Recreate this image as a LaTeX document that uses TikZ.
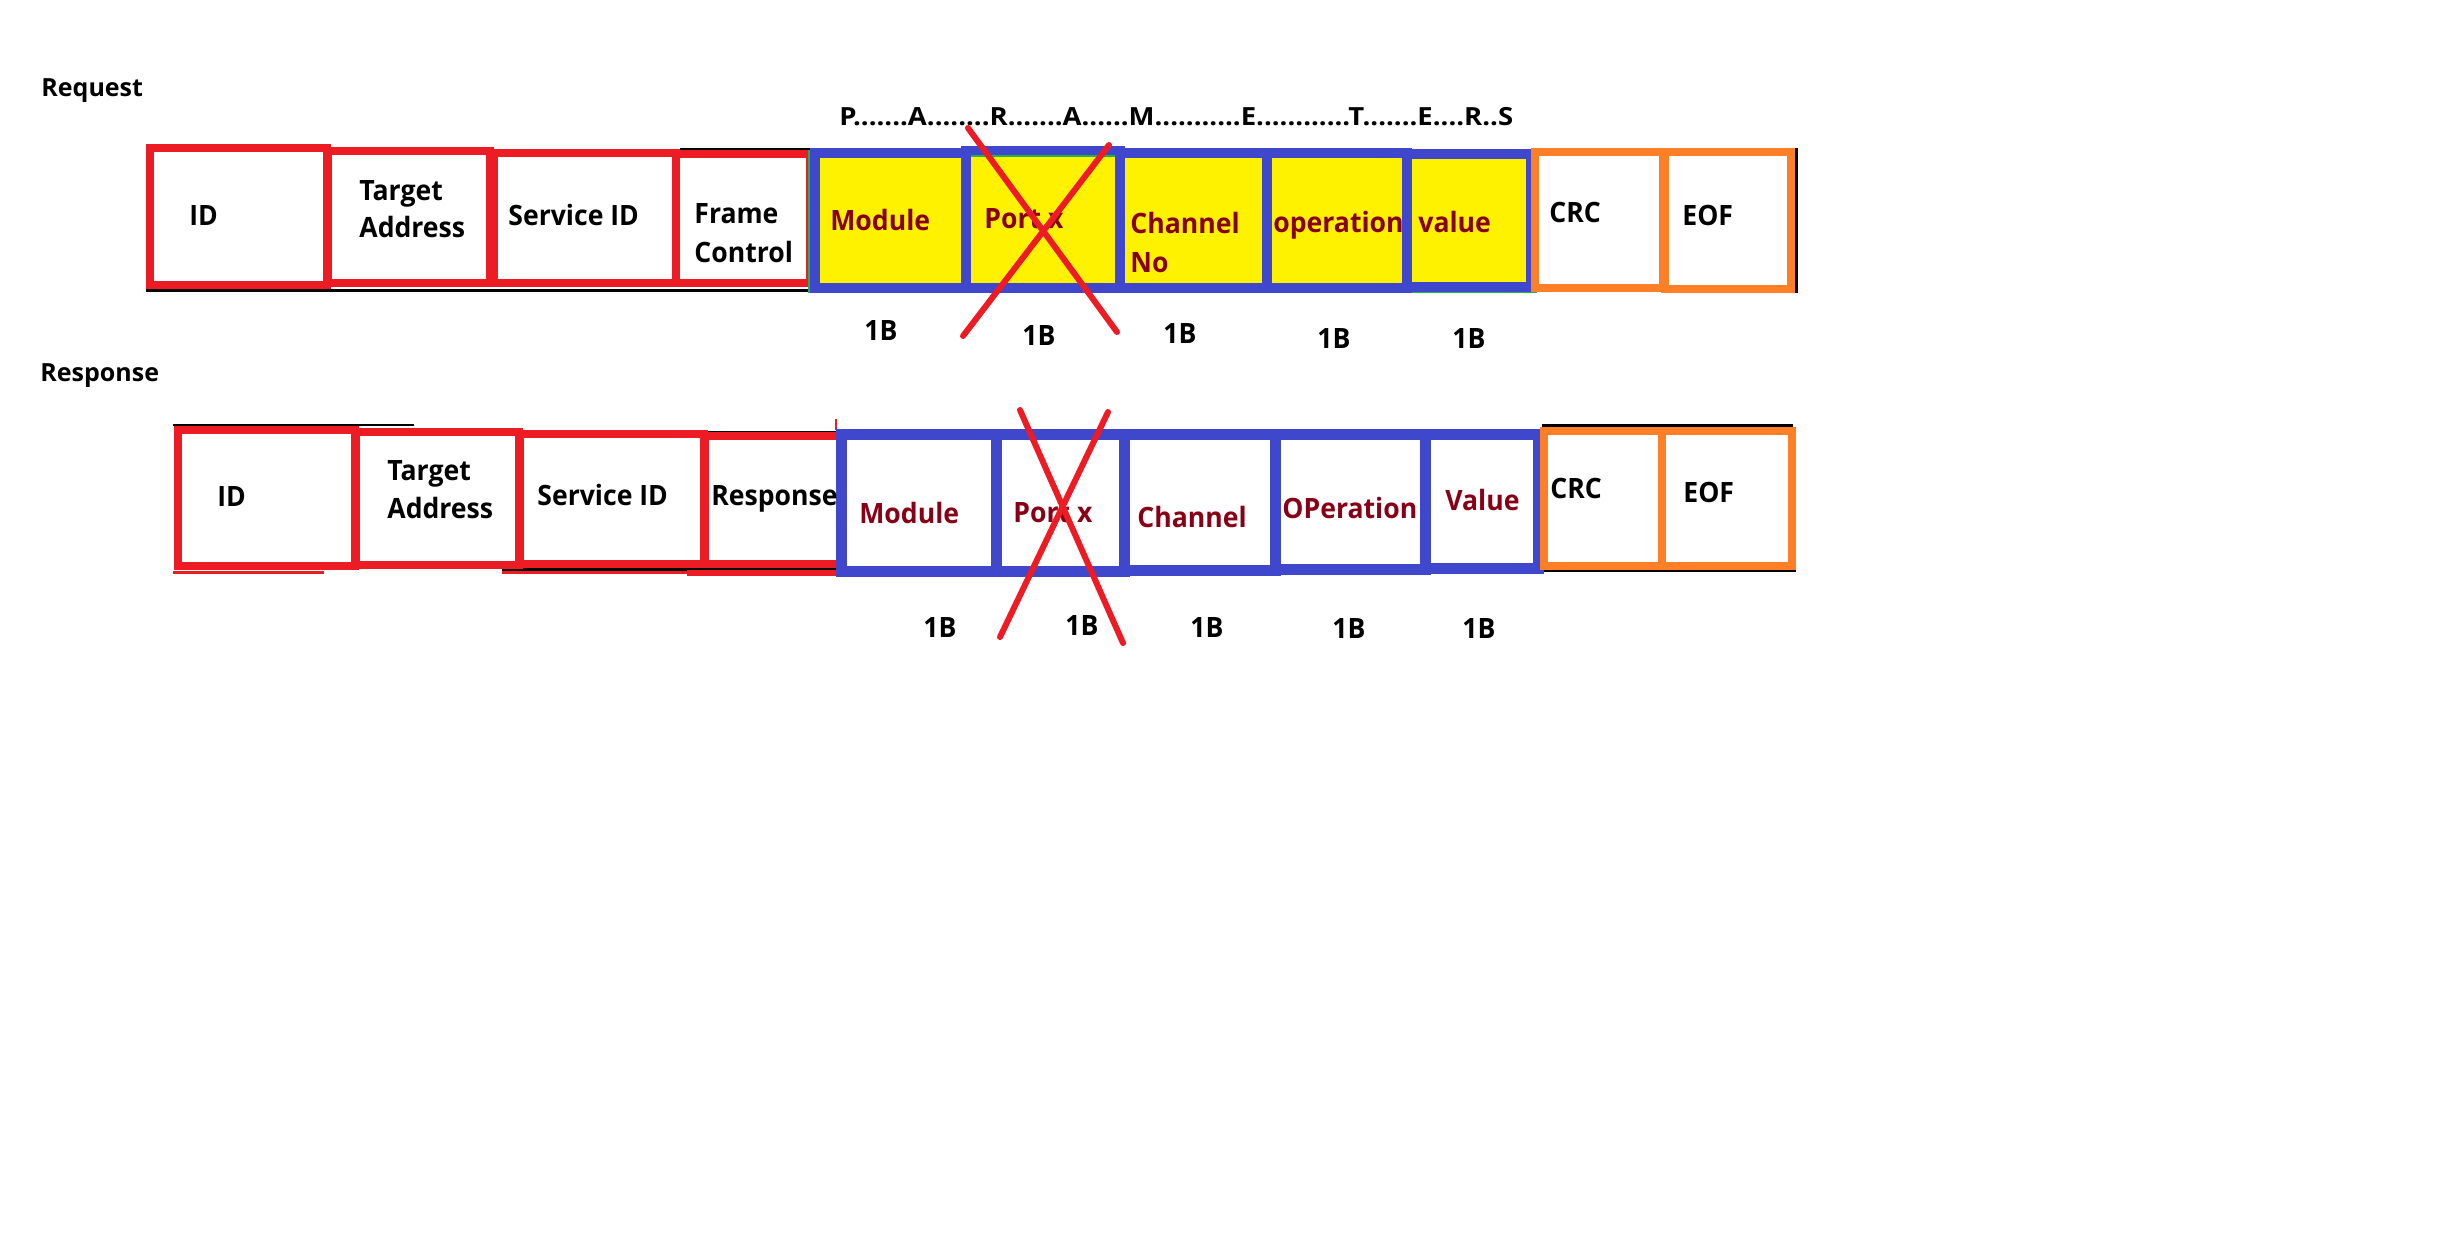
\documentclass[tikz,border=0pt]{standalone}
\usepackage{fontspec}
\setmainfont{Open Sans}
\newfontfamily\lblfont{Open Sans}[FakeStretch=0.95]
\usetikzlibrary{fit}
\definecolor{pRed}{HTML}{ED1C24}
\definecolor{pBlue}{HTML}{3F48CC}
\definecolor{pYellow}{HTML}{FFF200}
\definecolor{pOrange}{HTML}{FF7F27}
\definecolor{pDark}{HTML}{880015}
\definecolor{pGreen}{HTML}{22B14C}
\begin{document}
\begin{tikzpicture}[x=0.5pt,y=-0.5pt,
  redcell/.style={draw=pRed, line width=4pt, inner sep=0pt, fill=white},
  bluecellA/.style={draw=pBlue, line width=5pt, inner sep=0pt, fill=pYellow},
  bluecellB/.style={draw=pBlue, line width=5.5pt, inner sep=0pt, fill=white},
  orangecell/.style={draw=pOrange, line width=4pt, inner sep=0pt, fill=white},
  blk/.style={draw=black},
  lbl/.style={anchor=base west, inner sep=0pt, font=\lblfont\fontsize{14}{16}\selectfont\bfseries},
  lblp/.style={lbl, text=pDark},
  title/.style={anchor=base west, inner sep=0pt, font=\fontsize{12.5}{15}\selectfont\bfseries},
  sizelbl/.style={anchor=base west, inner sep=0pt, font=\lblfont\fontsize{14}{16}\selectfont\bfseries},
  crossline/.style={draw=pRed, line width=3pt, line cap=round},
]
\useasboundingbox[fill=white] (0,0) rectangle (2440,1244);

% ---------------- Request ----------------
\node[title] (reqT) at (41,96) {Request};
\node[title] (params) at (839,125) {\scalebox{1.1}[1]{P.......A........R.......A......M...........E............T.......E....R..S}};

% underlying black lines
\draw[blk, line width=2.5pt] (146,154.5) -- (500,154.5);
\draw[blk, line width=1pt] (680,149) -- (810,149);
\draw[blk, line width=1.5pt] (146,290) -- (810,290);
\draw[blk, line width=1.5pt] (1539,157) -- (1793,157);
\draw[blk, line width=1.5pt] (1539,284) -- (1793,284);
\draw[blk, line width=1.5pt] (1796,148) -- (1796,293);

% red cells
\node[redcell, fit={(150,148) (327,285)}] (rID) {};
\node[redcell, fit={(328,151) (490,283)}] (rTA) {};
\node[redcell, fit={(494,153) (676,283)}] (rSID) {};
\node[redcell, fit={(676,154) (810,283)}] (rFC) {};

% green outline of the parameter block
\draw[draw=pGreen, line width=1pt] (1537,292) -- (809,292) -- (809,150);

% blue/yellow parameter cells
\node[bluecellA, fit={(815,153) (965.5,287.5)}] (rMod) {};
\node[bluecellA, fit={(965.5,151) (1120,287.5)}] (rPort) {};
\node[bluecellA, fit={(1120,153) (1266.5,287.5)}] (rChan) {};
\node[bluecellA, fit={(1266.5,153) (1406.5,287.5)}] (rOp) {};
\node[bluecellA, fit={(1406.5,154) (1531,286.5)}] (rVal) {};
\draw[draw=pGreen, line width=1pt] (971,156) -- (1115,156);

% orange cells
\node[orangecell, fit={(1535,152) (1663,288)}] (rCRC) {};
\node[orangecell, fit={(1665,152) (1791,289)}] (rEOF) {};

% request texts
\node[lbl] (tID1) at (189,225) {ID};
\node[lbl] (tTA1a) at (359,200) {Target};
\node[lbl] (tTA1b) at (359,237) {Address};
\node[lbl] (tSID1) at (508,225) {Service ID};
\node[lbl] (tFC1a) at (694,223) {Frame};
\node[lbl] (tFC1b) at (694,262) {Control};
\node[lblp] (tMod1) at (830,230) {Module};
\node[lblp] (tPort1) at (984,228) {Port x};
\node[lblp] (tCh1a) at (1130,233) {Channel};
\node[lblp] (tCh1b) at (1130,272) {No};
\node[lblp] (tOp1) at (1273,232) {operation};
\node[lblp] (tVal1) at (1418,232) {value};
\node[lbl] (tCRC1) at (1549,222) {CRC};
\node[lbl] (tEOF1) at (1682,225) {EOF};

\node[sizelbl] (b11) at (864,340) {1B};
\node[sizelbl] (b12) at (1022,345) {1B};
\node[sizelbl] (b13) at (1163,343) {1B};
\node[sizelbl] (b14) at (1317,348) {1B};
\node[sizelbl] (b15) at (1452,348) {1B};

% cross over Port (request)
\coordinate (rxa1) at (968,128);
\coordinate (rxa2) at (1117,332);
\coordinate (rxb1) at (1109,145);
\coordinate (rxb2) at (963,336);
\draw[crossline] (rxa1) -- (rxa2);
\draw[crossline] (rxb1) -- (rxb2);

% ---------------- Response ----------------
\node[title] (resT) at (40,381) {Response};

% underlying lines
\draw[blk, line width=1.2pt] (173,425) -- (414,425);
\draw[blk, line width=2.5pt] (178,436) -- (525,436);
\draw[blk, line width=1pt] (708,431.5) -- (839,431.5);
\draw[blk, line width=1.5pt] (502,569) -- (839,569);
\draw[draw=pRed, line width=1.5pt] (173,572) -- (324,572);
\draw[draw=pRed, line width=1.5pt] (502,572) -- (687,572);
\draw[draw=pRed, line width=3pt] (687,573) -- (839,573);
\draw[draw=pRed, line width=1pt] (836,419) -- (836,430);
\draw[blk, line width=1.5pt] (1542,425) -- (1793,425);
\draw[blk, line width=2pt] (1542,570) -- (1796,570);

% red cells
\node[redcell, fit={(178,430) (355,566)}] (sID) {};
\node[redcell, fit={(356,432) (519,565)}] (sTA) {};
\node[redcell, fit={(520,434) (704,564)}] (sSID) {};
\node[redcell, fit={(705,436) (841,564)}] (sResp) {};

% blue cells
\node[bluecellB, fit={(841.5,434.5) (996.5,571)}] (sMod) {};
\node[bluecellB, fit={(996.5,434.5) (1124.5,571)}] (sPort) {};
\node[bluecellB, fit={(1124.5,434.5) (1275,570)}] (sChan) {};
\node[bluecellB, fit={(1275,434.5) (1425.5,569)}] (sOp) {};
\node[bluecellB, fit={(1425.5,434.5) (1538.5,568)}] (sVal) {};

% orange cells
\node[orangecell, fit={(1544,431) (1662,566)}] (sCRC) {};
\node[orangecell, fit={(1662,431) (1792,566)}] (sEOF) {};

% response texts
\node[lbl] (tID2) at (217,506) {ID};
\node[lbl] (tTA2a) at (387,480) {Target};
\node[lbl] (tTA2b) at (387,518) {Address};
\node[lbl] (tSID2) at (537,505) {Service ID};
\node[lbl] (tResp2) at (711,505) {Response};
\node[lblp] (tMod2) at (859,523) {Module};
\node[lblp] (tPort2) at (1013,522) {Port x};
\node[lblp] (tCh2) at (1137,527) {Channel};
\node[lblp] (tOp2) at (1282,518) {OPeration};
\node[lblp] (tVal2) at (1445,510) {Value};
\node[lbl] (tCRC2) at (1550,498) {CRC};
\node[lbl] (tEOF2) at (1683,502) {EOF};

\node[sizelbl] (b21) at (923,637) {1B};
\node[sizelbl] (b22) at (1065,635) {1B};
\node[sizelbl] (b23) at (1190,637) {1B};
\node[sizelbl] (b24) at (1332,638) {1B};
\node[sizelbl] (b25) at (1462,638) {1B};

% cross over Port (response)
\coordinate (sxa1) at (1020,410);
\coordinate (sxa2) at (1123,643);
\coordinate (sxb1) at (1108,412);
\coordinate (sxb2) at (1000,637);
\draw[crossline] (sxa1) -- (sxa2);
\draw[crossline] (sxb1) -- (sxb2);
\end{tikzpicture}
\end{document}
